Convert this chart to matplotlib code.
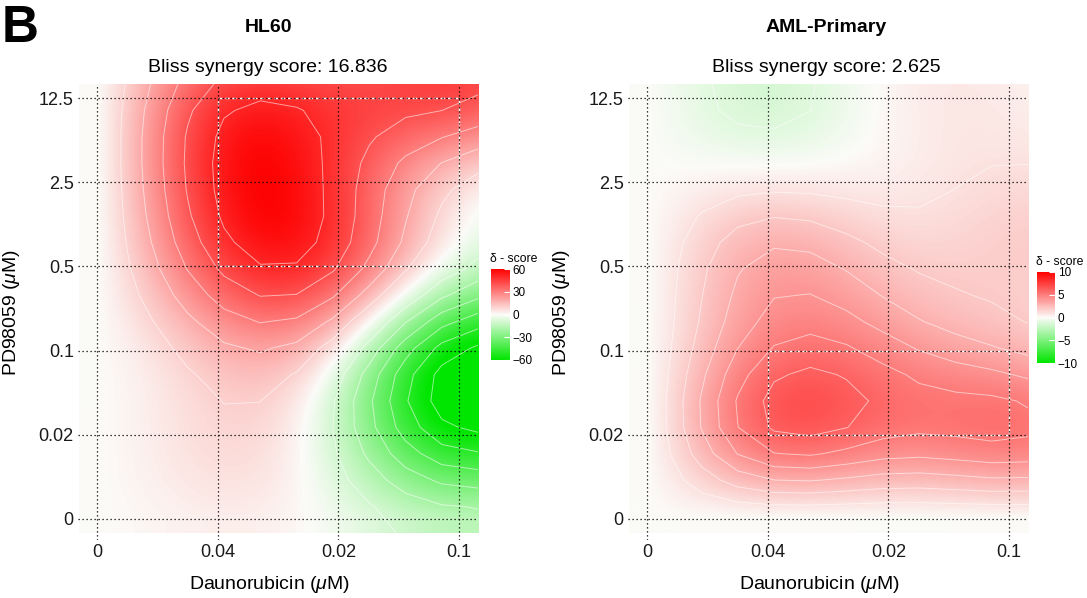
import numpy as np
import matplotlib.pyplot as plt
from matplotlib.colors import LinearSegmentedColormap
from matplotlib.patches import Rectangle

plt.rcParams['font.family'] = ['Liberation Sans', 'DejaVu Sans']
plt.rcParams['mathtext.fontset'] = 'custom'
plt.rcParams['mathtext.rm'] = 'Liberation Sans'
plt.rcParams['mathtext.it'] = 'Liberation Sans:italic'

dauno_labels = ['0', '0.04', '0.02', '0.1']
pd_labels = ['0', '0.02', '0.1', '0.5', '2.5', '12.5']

# delta scores, rows = PD98059 dose (bottom -> top), cols = Daunorubicin dose
hl60_delta = np.array([
    [0,  3,  -3, -15],
    [0,  8, -12, -58],
    [0, 17,   2, -60],
    [0, 41,  40,  -8],
    [0, 52,  46,  10],
    [0, 45,  45,  42],
])
aml_delta = np.array([
    [0,  0.0, 0.0, 0.0],
    [0,  5.8, 5.2, 5.3],
    [0,  5.0, 4.5, 3.0],
    [0,  3.4, 2.2, 1.8],
    [0,  0.6, 0.6, 1.2],
    [0, -1.4, 0.2, 0.6],
])
titles = ['HL60', 'AML-Primary']
bliss_scores = [16.836, 2.625]
limits = [60, 10]
contour_steps = [10, 1]
# most synergistic area (x0, y0, x1, y1) in dose index
boxes = [(1, 3, 3, 5), (1, 1, 3, 2)]

cmap = LinearSegmentedColormap.from_list('delta', ['#00E600', '#FBFBF8', '#FF0000'])

XL, XR = -0.15, 3.157
YB, YT = -0.167, 5.167


def krige(z, gx, gy, ls=0.85):
    ny, nx = z.shape
    px, py = np.meshgrid(np.arange(nx), np.arange(ny))
    px, py = px.ravel(), py.ravel()
    d2 = (px[:, None] - px[None, :])**2 + (py[:, None] - py[None, :])**2
    K = np.exp(-d2 / (2 * ls**2)) + 1e-4 * np.eye(len(px))
    w = np.linalg.solve(K, z.ravel().astype(float))
    # single-drug edges stay flat outside the grid
    GX, GY = np.meshgrid(np.maximum(gx, 0), np.maximum(gy, 0))
    g2 = (GX.ravel()[:, None] - px[None, :])**2 + (GY.ravel()[:, None] - py[None, :])**2
    return (np.exp(-g2 / (2 * ls**2)) @ w).reshape(GY.shape)


fig = plt.figure(figsize=(10.87, 5.98), dpi=100)

ax_lefts = [78, 628]
cax_pos = [(491, 269, 19, 91), (1037, 272, 18, 91)]
title_x = [268, 826]
datas = [hl60_delta, aml_delta]

for i in range(2):
    ax = fig.add_axes([ax_lefts[i] / 1087, 1 - 540 / 598, 400 / 1087, 456 / 598])
    z = datas[i]
    lim = limits[i]
    gx = np.linspace(XL, XR, 300)
    gy = np.linspace(YB, YT, 420)
    zz = krige(z, gx, gy)
    im = ax.imshow(zz, origin='lower', extent=(XL, XR, YB, YT), cmap=cmap,
                   vmin=-lim, vmax=lim, aspect='auto', interpolation='bilinear', zorder=0)
    cx = np.linspace(XL, XR, 12)
    cy = np.linspace(YB, YT, 18)
    levels = np.arange(-lim, lim + contour_steps[i], contour_steps[i])
    ax.contour(cx, cy, krige(z, cx, cy), levels=levels, colors='white',
               linewidths=0.7, alpha=0.55, linestyles='solid', zorder=1)
    bx0, by0, bx1, by1 = boxes[i]
    ax.add_patch(Rectangle((bx0, by0), bx1 - bx0, by1 - by0, fill=False,
                           edgecolor='white', lw=1.0, ls=(0, (3, 2)), zorder=2))
    ax.set_xlim(-0.157, XR)
    ax.set_ylim(-0.25, YT)
    ax.set_xticks(range(4))
    ax.set_xticklabels(dauno_labels)
    ax.set_yticks(range(6))
    ax.set_yticklabels(pd_labels)
    ax.tick_params(length=0, labelsize=13, pad=3, colors='#1a1a1a')
    ax.grid(True, color='black', linestyle=(0, (1, 2.2)), linewidth=0.9)
    ax.set_axisbelow(False)
    for s in ax.spines.values():
        s.set_visible(False)
    ax.set_xlabel(r'Daunorubicin ($\mu$M)', fontsize=14)
    ax.set_ylabel(r'PD98059 ($\mu$M)', fontsize=14)
    ax.xaxis.set_label_coords(0.48, -0.075)
    ax.yaxis.set_label_coords(-0.14, 0.5)

    fig.text(title_x[i] / 1087, 1 - 27 / 598, titles[i], fontsize=14, fontweight='bold',
             ha='center', va='center')
    fig.text(title_x[i] / 1087, 1 - 67 / 598, f'Bliss synergy score: {bliss_scores[i]}',
             fontsize=14, ha='center', va='center')

    l, t, w, h = cax_pos[i]
    cax = fig.add_axes([l / 1087, 1 - (t + h) / 598, w / 1087, h / 598])
    cb = fig.colorbar(im, cax=cax, ticks=np.linspace(-lim, lim, 5))
    cb.outline.set_visible(False)
    cax.tick_params(direction='in', color='white', length=4, width=0.8, labelsize=8.5, pad=2)
    cax.text(-0.05, 1.04, 'δ - score', transform=cax.transAxes, fontsize=8.8,
             ha='left', va='bottom')

fig.text(2 / 1087, 1 - 28 / 598, 'B', fontsize=37, fontweight='bold', va='center', ha='left')

fig.savefig('out.png', dpi=100)
